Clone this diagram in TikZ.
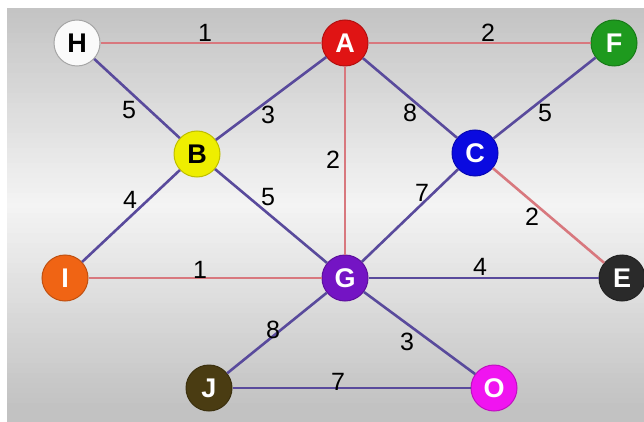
\documentclass[tikz,border=0pt]{standalone}
\usepackage{fontspec}
\setmainfont{Liberation Sans}
\definecolor{redge}{HTML}{D8787E}
\definecolor{pedge}{HTML}{594A9C}
\definecolor{cH}{HTML}{FAFAFA}
\definecolor{cA}{HTML}{E01414}
\definecolor{cF}{HTML}{1E9A1E}
\definecolor{cB}{HTML}{EEEE00}
\definecolor{cC}{HTML}{0A0AE0}
\definecolor{cI}{HTML}{F06414}
\definecolor{cG}{HTML}{7414C4}
\definecolor{cE}{HTML}{2A2A2A}
\definecolor{cJ}{HTML}{4A3C12}
\definecolor{cO}{HTML}{F014F0}
\definecolor{bgtop}{HTML}{C2C2C2}
\definecolor{bgmid}{HTML}{F4F4F4}
\tikzset{
  vert/.style={circle, minimum size=46pt, inner sep=0pt, font=\fontsize{27}{27}\selectfont\bfseries, text=white, draw=#1!80!black, line width=1pt, fill=#1},
  redline/.style={draw=redge, line width=2.6pt},
  purpline/.style={draw=pedge, line width=2.6pt},
  wlbl/.style={font=\fontsize{25}{25}\selectfont, text=black, inner sep=0pt}
}
\begin{document}
\begin{tikzpicture}[x=1pt,y=-1pt]
\useasboundingbox (0,0) rectangle (644,422);
\clip (0,0) rectangle (644,422);
\fill[white] (0,0) rectangle (644,422);
\foreach \i in {0,...,82} {
  \pgfmathsetmacro{\ya}{8+\i*5}
  \pgfmathsetmacro{\yb}{\ya+5.5}
  \pgfmathtruncatemacro{\p}{min(100,abs(\ya+2.5-205)/2)}
  \fill[bgtop!\p!bgmid] (7,\ya) rectangle (644,\yb);
}
% vertices
\node[vert=cH, text=black, draw=gray!70] (H) at (77,43) {H};
\node[vert=cA] (A) at (345,43) {A};
\node[vert=cF] (F) at (614,43) {F};
\node[vert=cB, text=black] (B) at (197,154) {B};
\node[vert=cC] (C) at (475,153) {C};
\node[vert=cI] (I) at (65,278) {I};
\node[vert=cG] (G) at (345,278) {G};
\node[vert=cE] (E) at (622,278) {E};
\node[vert=cJ] (J) at (209,388) {J};
\node[vert=cO] (O) at (494,388) {O};
% edges
\draw[redline] (H) -- (A);
\draw[redline] (A) -- (F);
\draw[redline] (A) -- (G);
\draw[redline] (C) -- (E);
\draw[redline] (I) -- (G);
\draw[purpline] (H) -- (B);
\draw[purpline] (A) -- (B);
\draw[purpline] (A) -- (C);
\draw[purpline] (F) -- (C);
\draw[purpline] (B) -- (I);
\draw[purpline] (B) -- (G);
\draw[purpline] (C) -- (G);
\draw[purpline] (G) -- (E);
\draw[purpline] (G) -- (J);
\draw[purpline] (G) -- (O);
\draw[purpline] (J) -- (O);
% weights
\node[wlbl] (wHA) at (205,33) {1};
\node[wlbl] (wAF) at (488,33) {2};
\node[wlbl] (wHB) at (129,110) {5};
\node[wlbl] (wAB) at (268,115) {3};
\node[wlbl] (wAC) at (410,113) {8};
\node[wlbl] (wCF) at (545,113) {5};
\node[wlbl] (wAG) at (333,160) {2};
\node[wlbl] (wBI) at (130,200) {4};
\node[wlbl] (wBG) at (268,197) {5};
\node[wlbl] (wCG) at (422,193) {7};
\node[wlbl] (wCE) at (532,217) {2};
\node[wlbl] (wIG) at (200,270) {1};
\node[wlbl] (wGE) at (480,267) {4};
\node[wlbl] (wGJ) at (273,330) {8};
\node[wlbl] (wGO) at (407,342) {3};
\node[wlbl] (wJO) at (338,382) {7};
\end{tikzpicture}
\end{document}
